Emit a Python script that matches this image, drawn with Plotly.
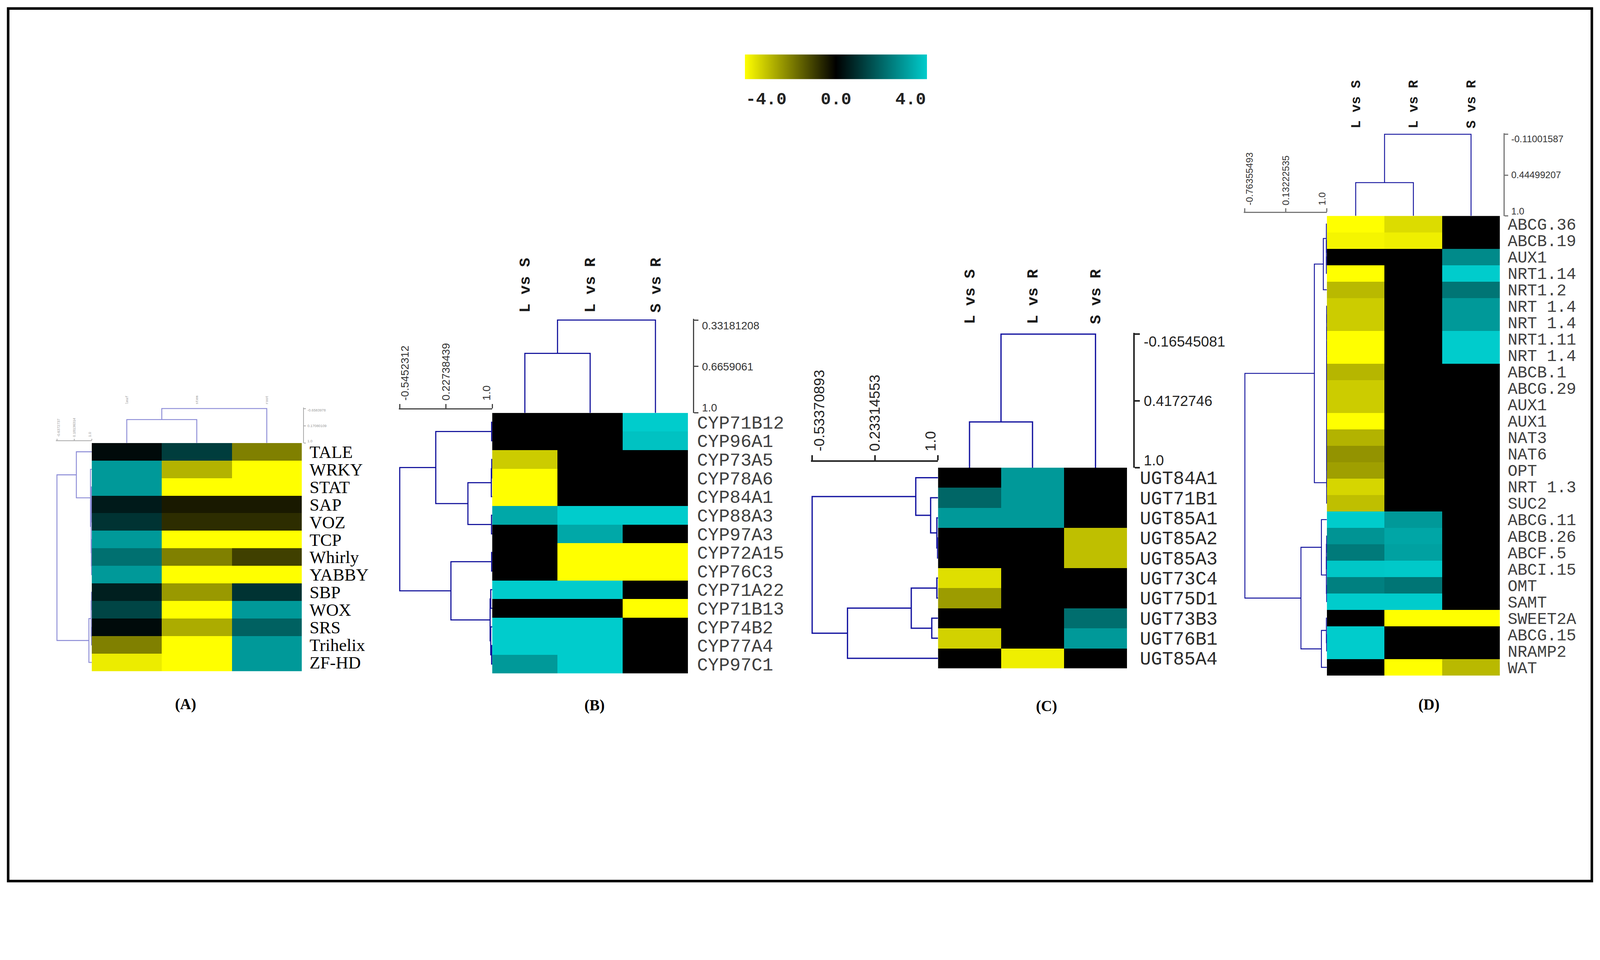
import plotly.graph_objects as go

# The page is photographed at 4411 px wide but laid out in CSS pixels (scale S),
# with the browser's default 8px body margin.
W, H = 4411, 2457
S = 4411 / 4096
BODY = 8
WC = int(4096 - 2 * BODY)
HC = int(2457 / S - 2 * BODY)

# ======================= DATA =======================
# Panel A (transcription factor families)
A_rows = ["TALE", "WRKY", "STAT", "SAP", "VOZ", "TCP", "Whirly", "YABBY",
          "SBP", "WOX", "SRS", "Trihelix", "ZF-HD"]
A_cols = ["leaf", "stem", "root"]
A_leaf = [0.2, 3.0, 3.0, 0.5, 1.0, 3.0, 2.2, 3.0, 0.6, 1.35, 0.2, -2.0, -3.7]
A_stem = [1.2, -2.8, -4.0, -0.4, -0.7, -4.0, -2.0, -4.0, -2.4, -4.0, -2.7, -4.0, -4.0]
A_root = [-2.0, -4.0, -4.0, -0.4, -0.7, -4.0, -1.0, -4.0, 1.0, 3.0, 1.9, 3.0, 3.0]
A_row_ticks = ["-0.6372737", "0.18136314", "1.0"]
A_col_ticks = ["-0.6583978", "0.17080109", "1.0"]
# trees: leaf = row/col index, node = (similarity, left, right)
A_row_tree = (-0.6372737,
              (0.275, 0, (0.94, 1, (0.97, (0.98, 2, (0.99, 3, 4)), (0.98, 5, (0.99, 6, 7))))),
              (0.865, (0.97, (0.985, 8, 9), (0.985, 10, 11)), 12))
A_col_tree = (-0.6583978, (-0.127, 0, 1), 2)

# Panel B (CYP genes)
B_rows = ["CYP71B12", "CYP96A1", "CYP73A5", "CYP78A6", "CYP84A1", "CYP88A3", "CYP97A3",
          "CYP72A15", "CYP76C3", "CYP71A22", "CYP71B13", "CYP74B2", "CYP77A4", "CYP97C1"]
B_cols = ["L vs S", "L vs R", "S vs R"]
B_LvsS = [0, 0, -3.2, -4, -4, 3.3, 0, 0, 0, 4, 0, 4, 4, 3.0]
B_LvsR = [0, 0, 0, 0, 0, 4, 3.3, -4, -4, 4, 0, 4, 4, 4]
B_SvsR = [4, 3.8, 0, 0, 0, 4, 0, -4, -4, 0, -4, 0, 0, 0]
B_row_ticks = ["-0.5452312", "0.22738439", "1.0"]
B_col_ticks = ["0.33181208", "0.6659061", "1.0"]
B_row_tree = (-0.5452312,
              (0.057, (0.99, 0, 1), (0.594, (0.985, (0.992, 2, 3), 4), (0.988, 5, 6))),
              (0.31, (0.99, 7, 8), (0.965, (0.975, 9, 10), (0.975, 11, (0.99, 12, 13)))))
B_col_tree = (0.33181208, (0.572, 0, 1), 2)

# Panel C (UGT genes)
C_rows = ["UGT84A1", "UGT71B1", "UGT85A1", "UGT85A2", "UGT85A3", "UGT73C4", "UGT75D1",
          "UGT73B3", "UGT76B1", "UGT85A4"]
C_cols = ["L vs S", "L vs R", "S vs R"]
C_LvsS = [0, 2.0, 3.0, 0, 0, -3.5, -2.45, 0, -3.3, 0]
C_LvsR = [3.0, 3.0, 3.0, 0, 0, 0, 0, 0, 0, -3.75]
C_SvsR = [0, 0, 0, -3.0, -3.0, 0, 0, 2.15, 3.0, 0]
C_row_ticks = ["-0.53370893", "0.23314553", "1.0"]
C_col_ticks = ["-0.16545081", "0.4172746", "1.0"]
C_row_tree = (-0.53370893,
              (0.729, 0, (0.910, 1, (0.986, 2, (0.995, 3, 4)))),
              (-0.103, (0.674, (0.986, 5, 6), (0.924, 7, 8)), 9))
C_col_tree = (-0.16545081, (0.601, 0, 1), 2)

# Panel D (transporters)
D_rows = ["ABCG.36", "ABCB.19", "AUX1", "NRT1.14", "NRT1.2", "NRT 1.4", "NRT 1.4", "NRT1.11",
          "NRT 1.4", "ABCB.1", "ABCG.29", "AUX1", "AUX1", "NAT3", "NAT6", "OPT", "NRT 1.3",
          "SUC2", "ABCG.11", "ABCB.26", "ABCF.5", "ABCI.15", "OMT", "SAMT", "SWEET2A",
          "ABCG.15", "NRAMP2", "WAT"]
D_cols = ["L vs S", "L vs R", "S vs R"]
D_LvsS = [-4, -3.85, 0, -4, -2.9, -3.2, -3.2, -4, -4, -2.85, -3.2, -3.2, -4, -2.8, -2.3, -2.5,
          -3.35, -3.0, 4, 2.9, 2.4, 3.9, 2.5, 4, 0, 4, 4, 0]
D_LvsR = [-3.45, -3.75, 0, 0, 0, 0, 0, 0, 0, 0, 0, 0, 0, 0, 0, 0, 0, 0, 3.0, 3.25, 3.15, 3.95,
          2.3, 4, -4, 0, 0, -4]
D_SvsR = [0, 0, 2.7, 4, 2.3, 3.0, 3.0, 4, 4, 0, 0, 0, 0, 0, 0, 0, 0, 0, 0, 0, 0, 0, 0, 0, -4,
          0, 0, -2.9]
D_row_ticks = ["-0.76355493", "0.13222535", "1.0"]
D_col_ticks = ["-0.11001587", "0.44499207", "1.0"]
D_chain_leaves = [5, 6, 7, 8, 9, 10, 11, 12, 13, 14, 15, 17, 16]
D_col_tree = (-0.11001587, (0.548, 0, 1), 2)

cbar_vals = [-4.0, 0.0, 4.0]
cbar_text = ["-4.0", "0.0", "4.0"]
panel_tags = ["(A)", "(B)", "(C)", "(D)"]


def chain(leaves, h):
    node = leaves[0]
    for lf in leaves[1:]:
        node = (h, node, lf)
    return node


D_row_tree = (-0.76355493,
              (0.731, (0.924, (0.99, 0, (0.99, 1, (0.99, 2, 3))), 4), chain(D_chain_leaves, 0.995)),
              (0.4425, (0.883, 18, (0.99, (0.99, (0.995, 19, 20), 21), (0.995, 22, 23))),
               (0.883, (0.99, 24, (0.995, 25, 26)), 27)))

# ======================= GEOMETRY / STYLE (photo pixels) =======================
GEOM = {
    "A": dict(hx=(253, 832), hy=(1221, 1850), rx0=157, rsy=1215, cy0=1126, csx=837),
    "B": dict(hx=(1357, 1897), hy=(1138, 1856), rx0=1102, rsy=1126, cy0=882, csx=1912),
    "C": dict(hx=(2586, 3107), hy=(1289, 1842), rx0=2239, rsy=1271, cy0=921, csx=3126),
    "D": dict(hx=(3658, 4135), hy=(595, 1862), rx0=3432, rsy=585, cy0=370, csx=4146),
}
STYLE = {
    "A": dict(rfam="Liberation Serif", rsize=48, rcol="#000000", rstand=20,
              cfam="Liberation Mono", csize=10, ccol="#999999", cstand=7, cweight="normal",
              ssize=10, sfcol="#999999", scol="#aaaaaa", sw=2, slen=5, dcol="#8a8ad6", dw=2.5),
    "B": dict(rfam="Liberation Mono", rsize=50, rcol="#404040", rstand=24,
              cfam="Liberation Mono", csize=42, ccol="#1a1a1a", cstand=16, cweight="bold",
              ssize=30, sfcol="#333333", scol="#444444", sw=3, slen=12, dcol="#0c0c99", dw=3),
    "C": dict(rfam="Liberation Mono", rsize=51, rcol="#2a2a2a", rstand=34,
              cfam="Liberation Mono", csize=42, ccol="#1a1a1a", cstand=24, cweight="bold",
              ssize=40, sfcol="#222222", scol="#222222", sw=4, slen=14, dcol="#1414a0", dw=3.5),
    "D": dict(rfam="Liberation Mono", rsize=45, rcol="#404040", rstand=20,
              cfam="Liberation Mono", csize=37, ccol="#1a1a1a", cstand=12, cweight="bold",
              ssize=26, sfcol="#333333", scol="#777777", sw=3, slen=10, dcol="#10109c", dw=2.5),
}
TAG_POS = [(512, 1941), (1639, 1944), (2885, 1946), (3939, 1942)]


def px(v):
    return v / S


def ipx(v):
    return int(round(v / S))


def fx(p):
    return (p / S - BODY) / WC


def fy(p):
    return 1 - (p / S - BODY) / HC


def names(n):
    s = "" if n == 1 else str(n)
    return "xaxis" + s, "yaxis" + s, "x" + s, "y" + s


def dendro(tree):
    pos, hts = [], []

    def walk(node):
        if isinstance(node, int):
            return float(node), 1.0
        h, l, r = node
        pl, hl = walk(l)
        pr, hr = walk(r)
        pos.extend([pl, pl, pr, pr, None])
        hts.extend([hl, h, h, hr, None])
        return (pl + pr) / 2, h

    walk(tree)
    return pos, hts


def scale_axis(lo, labels, span_px, st):
    """Similarity scale: tick marks at lo / mid / 1.0, end labels kept inside the bar."""
    mid = (lo + 1.0) / 2
    off = (1.0 - lo) * 0.5 * st["ssize"] / span_px
    return dict(showline=True, linecolor=st["scol"], linewidth=px(st["sw"]),
                tickmode="array", tickvals=[lo + off, mid, 1.0 - off], ticktext=labels, ticks="",
                ticklabelstandoff=ipx(st["slen"] + 3),
                tickfont=dict(family="Liberation Sans", size=px(st["ssize"]), color=st["sfcol"]),
                minor=dict(tickmode="array", tickvals=[lo, mid, 1.0], ticks="outside",
                           ticklen=px(st["slen"]), tickwidth=px(st["sw"]), tickcolor=st["scol"],
                           showgrid=False),
                showgrid=False, zeroline=False)


fig = go.Figure()
layout = {}

panels = [
    ("A", A_rows, A_cols, [A_leaf, A_stem, A_root], A_row_tree, A_col_tree, A_row_ticks, A_col_ticks),
    ("B", B_rows, B_cols, [B_LvsS, B_LvsR, B_SvsR], B_row_tree, B_col_tree, B_row_ticks, B_col_ticks),
    ("C", C_rows, C_cols, [C_LvsS, C_LvsR, C_SvsR], C_row_tree, C_col_tree, C_row_ticks, C_col_ticks),
    ("D", D_rows, D_cols, [D_LvsS, D_LvsR, D_SvsR], D_row_tree, D_col_tree, D_row_ticks, D_col_ticks),
]

for i, (key, rows, cols, colvals, rtree, ctree, rticks, cticks) in enumerate(panels):
    g, st = GEOM[key], STYLE[key]
    nr, nc = len(rows), len(cols)
    z = [[colvals[j][r] for j in range(nc)] for r in range(nr)]
    n = 3 * i + 1
    hxa, hya, hx, hy = names(n)
    rxa, rya, rx, ry = names(n + 1)
    cxa, cya, cx, cy = names(n + 2)
    hx0, hx1 = g["hx"]
    hy0, hy1 = g["hy"]
    rfont = dict(family=st["rfam"], size=px(st["rsize"]), color=st["rcol"])
    cfont = dict(family=st["cfam"], size=px(st["csize"]), color=st["ccol"], weight=st["cweight"])

    fig.add_trace(go.Heatmap(z=z, x=list(range(nc)), y=list(range(nr)), coloraxis="coloraxis",
                             xaxis=hx, yaxis=hy, hoverinfo="skip"))
    layout[hxa] = dict(domain=[fx(hx0), fx(hx1)], range=[-0.5, nc - 0.5], anchor=hy,
                       visible=False, fixedrange=True)
    layout[hya] = dict(domain=[fy(hy1), fy(hy0)], range=[nr - 0.5, -0.5], anchor=hx, side="right",
                       tickmode="array", tickvals=list(range(nr)), ticktext=rows, ticks="",
                       showline=False, showgrid=False, zeroline=False, tickfont=rfont,
                       ticklabelstandoff=ipx(st["rstand"]))

    # row dendrogram + its similarity scale (top-left)
    rmin = float(rticks[0])
    pad_px = 3
    epsr = (1.0 - rmin) * pad_px / (hx0 - g["rx0"])
    pos, hts = dendro(rtree)
    fig.add_trace(go.Scatter(x=hts, y=pos, mode="lines", xaxis=rx, yaxis=ry, hoverinfo="skip",
                             line=dict(color=st["dcol"], width=px(st["dw"])), showlegend=False))
    ax_r = scale_axis(rmin, rticks, hx0 - g["rx0"], st)
    ax_r.update(domain=[fx(g["rx0"] - pad_px), fx(hx0)], range=[rmin - epsr, 1.0],
                anchor="free", position=fy(g["rsy"]), side="top", tickangle=-90)
    layout[rxa] = ax_r
    layout[rya] = dict(domain=[fy(hy1), fy(hy0)], range=[nr - 0.5, -0.5], anchor=rx, visible=False)

    # column dendrogram + its similarity scale (right)
    cmin = float(cticks[0])
    epsc = (1.0 - cmin) * pad_px / (hy0 - g["cy0"])
    pos, hts = dendro(ctree)
    fig.add_trace(go.Scatter(x=pos, y=hts, mode="lines", xaxis=cx, yaxis=cy, hoverinfo="skip",
                             line=dict(color=st["dcol"], width=px(st["dw"])), showlegend=False))
    layout[cxa] = dict(domain=[fx(hx0), fx(hx1)], range=[-0.5, nc - 0.5], anchor=cy, side="top",
                       tickmode="array", tickvals=list(range(nc)), ticktext=cols, tickangle=-90,
                       ticks="", showline=False, showgrid=False, zeroline=False,
                       tickfont=cfont, ticklabelstandoff=ipx(st["cstand"]))
    ax_c = scale_axis(cmin, cticks, hy0 - g["cy0"], st)
    ax_c.update(domain=[fy(hy0), fy(g["cy0"] - pad_px)], range=[1.0, cmin - epsc],
                anchor="free", position=fx(g["csx"]), side="right")
    layout[cya] = ax_c

annotations = []
for (tx, ty), tag in zip(TAG_POS, panel_tags):
    annotations.append(dict(x=fx(tx), y=fy(ty), xref="paper", yref="paper", text="<b>%s</b>" % tag,
                            showarrow=False, xanchor="center", yanchor="middle",
                            font=dict(family="Liberation Serif", size=px(42), color="#000000")))

# colour bar and its labels
CB_X0, CB_X1, CB_Y0, CB_Y1, CB_LY = 2054, 2556, 150, 218, 275
for v, t in zip(cbar_vals, cbar_text):
    p = CB_X0 + (v - cbar_vals[0]) / (cbar_vals[-1] - cbar_vals[0]) * (CB_X1 - CB_X0)
    anchor = "left" if v == cbar_vals[0] else ("right" if v == cbar_vals[-1] else "center")
    annotations.append(dict(x=fx(p), y=fy(CB_LY), xref="paper", yref="paper", text="<b>%s</b>" % t,
                            showarrow=False, xanchor=anchor, yanchor="middle",
                            font=dict(family="Liberation Mono", size=px(47), color="#222222")))

layout.update(dict(
    width=WC, height=HC, margin=dict(l=0, r=0, t=0, b=0, pad=0), autosize=False,
    paper_bgcolor="white", plot_bgcolor="rgba(0,0,0,0)", template="none", showlegend=False,
    coloraxis=dict(colorscale=[[0, "#ffff00"], [0.5, "#000000"], [1, "#00cccc"]], cmin=-4, cmax=4,
                   colorbar=dict(orientation="h", x=fx((CB_X0 + CB_X1) / 2), xanchor="center",
                                 y=fy((CB_Y0 + CB_Y1) / 2), yanchor="middle", len=px(CB_X1 - CB_X0),
                                 lenmode="pixels", thickness=px(CB_Y1 - CB_Y0),
                                 outlinewidth=0, showticklabels=False, ticks="", xpad=0, ypad=0)),
    annotations=annotations,
    shapes=[dict(type="rect", xref="paper", yref="paper", x0=fx(22.5), x1=fx(4388.5),
                 y0=fy(2428.5), y1=fy(23.5), line=dict(color="black", width=px(7)))],
))
fig.update_layout(**layout)
fig.write_html("out.html")
